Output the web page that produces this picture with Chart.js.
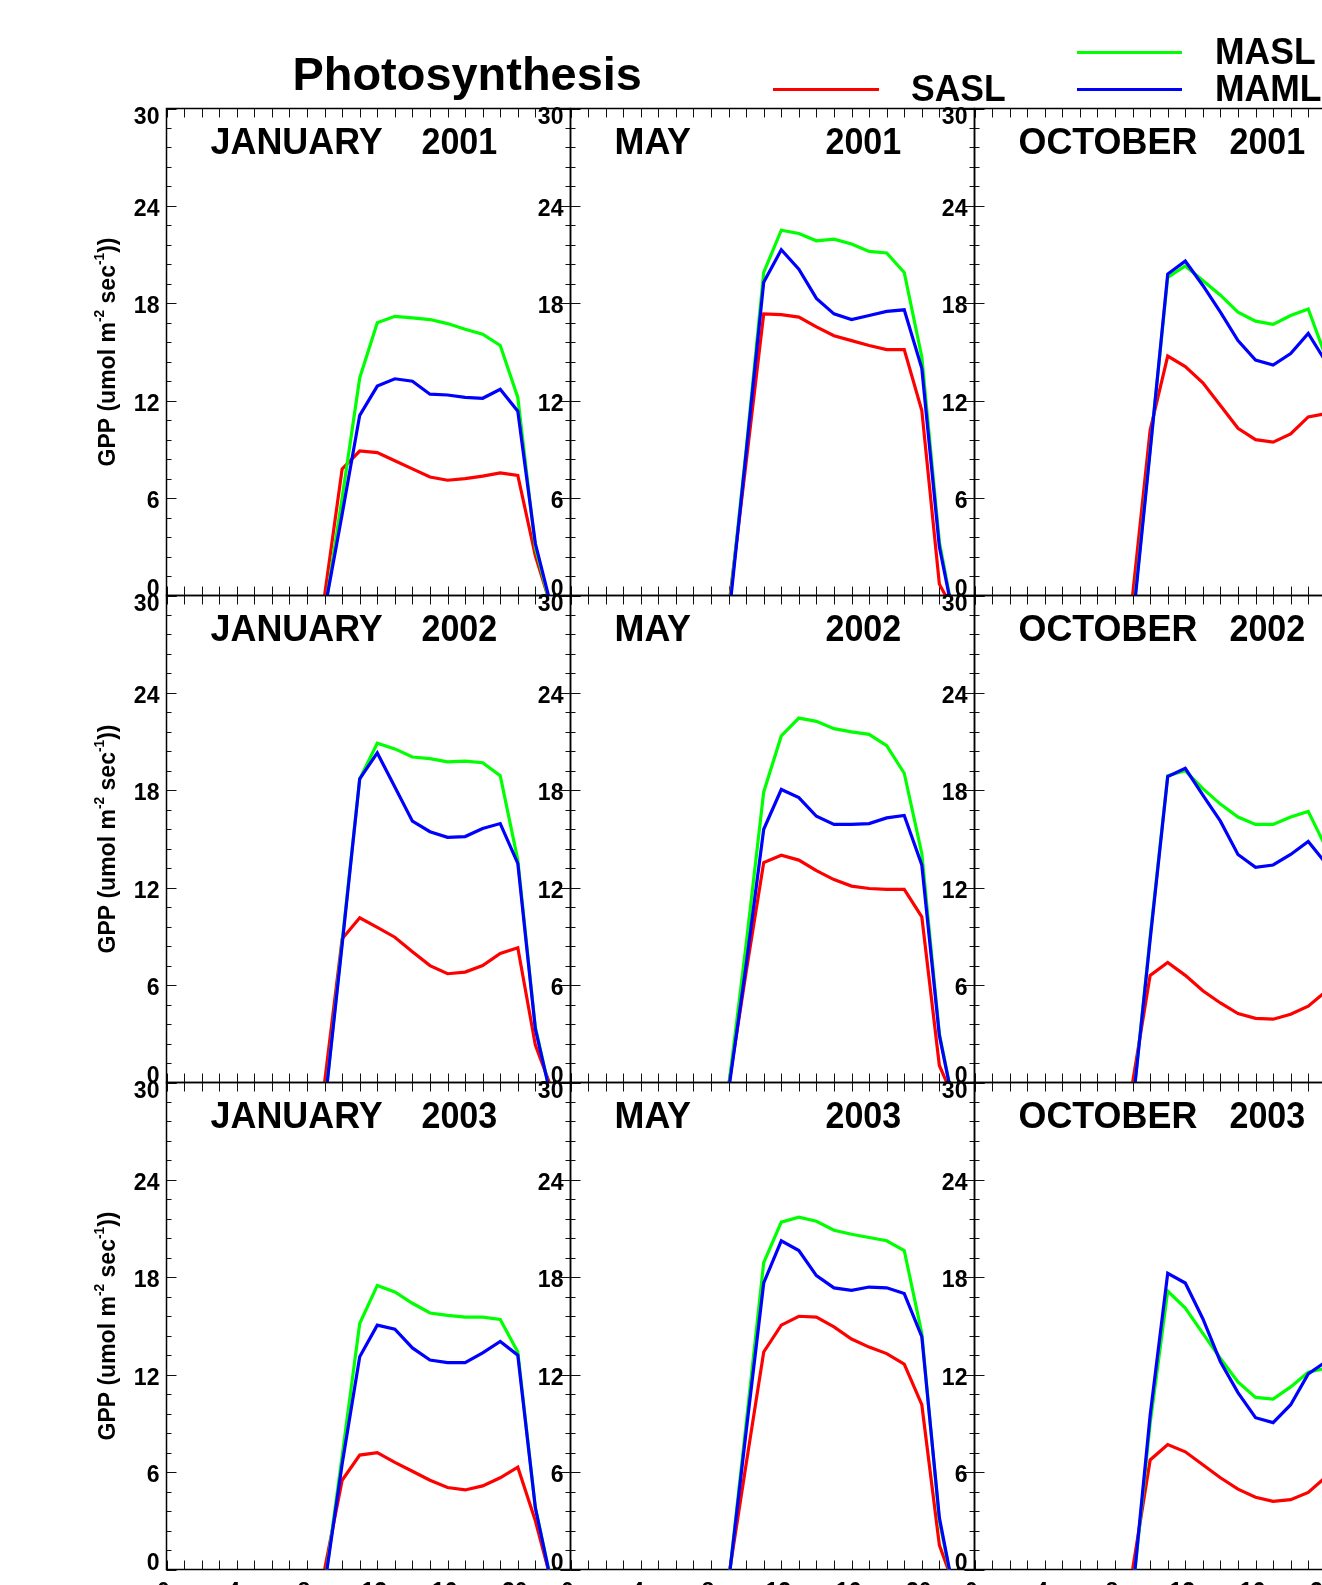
<!DOCTYPE html>
<html lang="en">
<head>
<meta charset="UTF-8" />
<title>Photosynthesis</title>
<script src="https://cdn.jsdelivr.net/npm/chart.js"></script>
<style>
  html, body { margin: 0; padding: 0; background: #fff; overflow: hidden; width: 1322px; height: 1585px; }
  canvas { position: absolute; left: 0; top: 0; }
</style>
</head>
<body>
<script>
const hours = [0,1,2,3,4,5,6,7,8,9,10,11,12,13,14,15,16,17,18,19,20,21,22,23];
const xTickLabels = [0, 4, 8, 12, 16, 20];
const yTicks = [0, 6, 12, 18, 24, 30];
const months = ['JANUARY', 'MAY', 'OCTOBER'];
const years = ['2001', '2002', '2003'];
const seriesNames = ['SASL', 'MASL', 'MAML'];
const seriesColors = ['#ff0000', '#00ff00', '#0000ff'];

// hourly GPP (umol m-2 s-1); null = not plotted
const saslJan2001 = [null,null,null,null,null,null,null,null,null, 0, 7.8, 8.9, 8.8, 8.3, 7.8, 7.3, 7.1, 7.2, 7.35, 7.55, 7.4, 2.45, -1.05, null];
const maslJan2001 = [null,null,null,null,null,null,null,null,null, -1.05, 6.0, 13.4, 16.8, 17.2, 17.1, 17.0, 16.75, 16.4, 16.1, 15.4, 12.2, 2.95, -1.2, null];
const mamlJan2001 = [null,null,null,null,null,null,null,null,null, -0.9, 5.0, 11.1, 12.9, 13.35, 13.2, 12.4, 12.35, 12.2, 12.15, 12.7, 11.35, 3.2, -1.1, null];

const saslMay2001 = [null,null,null,null,null,null,null,null,null, -0.8, 8.2, 17.35, 17.3, 17.15, 16.55, 16.0, 15.7, 15.4, 15.15, 15.15, 11.4, 0.7, -1.3, null];
const maslMay2001 = [null,null,null,null,null,null,null,null,null, -1.2, 9.0, 19.9, 22.5, 22.3, 21.85, 21.95, 21.65, 21.2, 21.1, 19.9, 14.7, 3.3, -2.4, null];
const mamlMay2001 = [null,null,null,null,null,null,null,null,null, -1.5, 8.8, 19.3, 21.3, 20.1, 18.3, 17.35, 17.0, 17.25, 17.5, 17.6, 14.0, 3.0, -2.4, null];

const saslOct2001 = [null,null,null,null,null,null,null,null,null, 0, 10.2, 14.75, 14.1, 13.1, 11.7, 10.3, 9.6, 9.45, 9.95, 11.0, 11.2, null, null, null];
const maslOct2001 = [null,null,null,null,null,null,null,null,null, -1.6, 9.0, 19.6, 20.3, 19.4, 18.5, 17.45, 16.9, 16.7, 17.25, 17.65, 14.7, null, null, null];
const mamlOct2001 = [null,null,null,null,null,null,null,null,null, -1.8, 8.9, 19.8, 20.6, 19.1, 17.45, 15.7, 14.5, 14.2, 14.9, 16.15, 14.4, null, null, null];

const saslJan2002 = [null,null,null,null,null,null,null,null,null, 0, 8.85, 10.15, 9.55, 8.95, 8.05, 7.2, 6.7, 6.8, 7.2, 7.95, 8.3, 2.3, -0.6, null];
const maslJan2002 = [null,null,null,null,null,null,null,null,null, -1.5, 8.7, 18.7, 20.9, 20.55, 20.05, 19.95, 19.75, 19.8, 19.7, 18.9, 13.7, 3.4, -1.4, null];
const mamlJan2002 = [null,null,null,null,null,null,null,null,null, -1.5, 8.5, 18.7, 20.3, 18.2, 16.1, 15.45, 15.1, 15.15, 15.65, 15.95, 13.5, 3.3, -1.4, null];

const saslMay2002 = [null,null,null,null,null,null,null,null,null, -0.2, 6.8, 13.55, 14.0, 13.7, 13.05, 12.5, 12.1, 11.95, 11.9, 11.9, 10.2, 1.05, -1.45, null];
const maslMay2002 = [null,null,null,null,null,null,null,null,null, -0.3, 8.5, 17.9, 21.35, 22.45, 22.25, 21.8, 21.6, 21.45, 20.75, 19.05, 14.1, 3.0, -2.4, null];
const mamlMay2002 = [null,null,null,null,null,null,null,null,null, -0.5, 7.25, 15.6, 18.05, 17.55, 16.4, 15.9, 15.9, 15.95, 16.3, 16.45, 13.4, 2.9, -2.4, null];

const saslOct2002 = [null,null,null,null,null,null,null,null,null, 0, 6.6, 7.4, 6.6, 5.65, 4.9, 4.25, 3.95, 3.9, 4.2, 4.7, 5.6, null, null, null];
const maslOct2002 = [null,null,null,null,null,null,null,null,null, -1.5, 9.0, 18.9, 19.2, 18.1, 17.15, 16.35, 15.9, 15.9, 16.35, 16.7, 14.5, null, null, null];
const mamlOct2002 = [null,null,null,null,null,null,null,null,null, -1.5, 8.8, 18.85, 19.35, 17.7, 16.1, 14.05, 13.25, 13.4, 14.05, 14.85, 13.5, null, null, null];

const saslJan2003 = [null,null,null,null,null,null,null,null,null, 0, 5.5, 7.05, 7.2, 6.6, 6.05, 5.5, 5.05, 4.9, 5.15, 5.65, 6.3, 3.0, -1.1, null];
const maslJan2003 = [null,null,null,null,null,null,null,null,null, -1.0, 7.0, 15.15, 17.5, 17.1, 16.4, 15.8, 15.65, 15.55, 15.55, 15.4, 13.4, 3.8, -1.2, null];
const mamlJan2003 = [null,null,null,null,null,null,null,null,null, -1.0, 6.5, 13.1, 15.05, 14.8, 13.65, 12.9, 12.75, 12.75, 13.35, 14.05, 13.2, 3.8, -1.3, null];

const saslMay2003 = [null,null,null,null,null,null,null,null,null, -0.5, 6.5, 13.4, 15.05, 15.6, 15.55, 14.95, 14.2, 13.7, 13.3, 12.65, 10.15, 1.5, -1.5, null];
const maslMay2003 = [null,null,null,null,null,null,null,null,null, -0.8, 9.0, 18.9, 21.4, 21.7, 21.45, 20.9, 20.65, 20.45, 20.25, 19.65, 14.55, 3.0, -2.4, null];
const mamlMay2003 = [null,null,null,null,null,null,null,null,null, -0.8, 8.5, 17.65, 20.25, 19.65, 18.1, 17.35, 17.2, 17.4, 17.35, 17.0, 14.35, 3.2, -2.4, null];

const saslOct2003 = [null,null,null,null,null,null,null,null,null, 0, 6.75, 7.7, 7.25, 6.45, 5.65, 4.95, 4.45, 4.2, 4.3, 4.75, 5.7, null, null, null];
const maslOct2003 = [null,null,null,null,null,null,null,null,null, -1.5, 9.0, 17.15, 16.1, 14.55, 13.0, 11.55, 10.6, 10.5, 11.25, 12.15, 12.4, null, null, null];
const mamlOct2003 = [null,null,null,null,null,null,null,null,null, -1.5, 9.5, 18.25, 17.65, 15.45, 12.8, 10.9, 9.35, 9.05, 10.15, 12.05, 12.8, null, null, null];

// rows = years, columns = months, each [SASL, MASL, MAML]
const panels = [
  [[saslJan2001, maslJan2001, mamlJan2001], [saslMay2001, maslMay2001, mamlMay2001], [saslOct2001, maslOct2001, mamlOct2001]],
  [[saslJan2002, maslJan2002, mamlJan2002], [saslMay2002, maslMay2002, mamlMay2002], [saslOct2002, maslOct2002, mamlOct2002]],
  [[saslJan2003, maslJan2003, mamlJan2003], [saslMay2003, maslMay2003, mamlMay2003], [saslOct2003, maslOct2003, mamlOct2003]]
];

// page geometry
const CW = 1420, CH = 1620;
const colLeft = [166.5, 570.5, 974.5];
const rowTop = [108.5, 595.5, 1082.5];
const PW = 404, PH = 487;
const FONT = '"Liberation Sans", Arial, Helvetica, sans-serif';

function txt(ctx, s, x, y, size, align, sx) {
  ctx.save();
  ctx.font = 'bold ' + size + 'px ' + FONT;
  ctx.translate(x, y);
  ctx.scale(sx || 1, 1);
  ctx.textAlign = align || 'left';
  ctx.textBaseline = 'alphabetic';
  ctx.fillStyle = '#000';
  ctx.fillText(s, 0, 0);
  ctx.restore();
}

// text with superscripts, drawn rotated -90deg and centred on (cx, cy)
function yTitle(ctx, parts, cx, cy, size) {
  ctx.save();
  ctx.translate(cx, cy);
  ctx.rotate(-Math.PI / 2);
  ctx.fillStyle = '#000';
  ctx.textBaseline = 'alphabetic';
  let w = 0;
  parts.forEach(p => {
    ctx.font = 'bold ' + (p.sup ? size * 0.6 : size) + 'px ' + FONT;
    w += ctx.measureText(p.t).width;
  });
  let x = -w / 2;
  parts.forEach(p => {
    ctx.font = 'bold ' + (p.sup ? size * 0.6 : size) + 'px ' + FONT;
    ctx.fillText(p.t, x, p.sup ? size * 0.36 - size * 0.5 : size * 0.36);
    x += ctx.measureText(p.t).width;
  });
  ctx.restore();
}

const idlFrame = {
  id: 'idlFrame',
  beforeDatasetsDraw(chart, args, o) {
    const { ctx, chartArea: a, scales: { x, y } } = chart;
    ctx.save();
    ctx.strokeStyle = '#111';
    ctx.lineWidth = 1;
    ctx.beginPath();
    hours.forEach((h, i) => {
      const px = Math.round(x.getPixelForValue(i)) + 0.5;
      ctx.moveTo(px, a.top); ctx.lineTo(px, a.top + 9);
      ctx.moveTo(px, a.bottom); ctx.lineTo(px, a.bottom - 9);
    });
    const step = (yTicks[1] - yTicks[0]) / 5;
    for (let k = 0; k <= 25; k++) {
      const py = Math.round(y.getPixelForValue(k * step)) + 0.5;
      const len = k % 5 === 0 ? 10 : 5;
      ctx.moveTo(a.left, py); ctx.lineTo(a.left + len, py);
      ctx.moveTo(a.right, py); ctx.lineTo(a.right - len, py);
    }
    ctx.stroke();
    ctx.strokeStyle = '#000';
    ctx.lineWidth = 1.5;
    ctx.strokeRect(a.left, a.top, a.width, a.height);
    ctx.restore();
  },
  afterDraw(chart, args, o) {
    const { ctx, chartArea: a, scales: { x, y } } = chart;
    // y tick labels
    yTicks.forEach((v, i) => {
      const py = y.getPixelForValue(v);
      let base = py + 10;
      if (i === yTicks.length - 1) base = py + 15;
      if (i === 0) base = py;
      txt(ctx, String(v), a.left - 7, base, 24, 'right', 0.96);
    });
    // x tick labels (bottom row only, mostly off the page)
    if (o.bottomRow) {
      xTickLabels.forEach(h => {
        const px = x.getPixelForValue(hours.indexOf(h));
        txt(ctx, String(h), px - 3, a.bottom + 29, 24, 'center', 0.96);
      });
    }
    txt(ctx, o.month, a.left + 44, a.top + 45, 37, 'left', 0.97);
    txt(ctx, o.year, a.left + 255, a.top + 45, 37, 'left', 0.92);
    if (o.yTitle) {
      yTitle(ctx, [{ t: 'GPP (umol m' }, { t: '-2', sup: true }, { t: ' sec' }, { t: '-1', sup: true }, { t: '))' }],
        107, (a.top + a.bottom) / 2, 23);
    }
    if (o.header) {
      txt(ctx, 'Photosynthesis', 292.5, 89.5, 46, 'left', 1.02);
      const ds = chart.data.datasets;
      const slots = {
        SASL: { x1: 773, x2: 879, y: 89.5, tx: 911, ty: 100.5 },
        MASL: { x1: 1077, x2: 1182, y: 52.5, tx: 1215, ty: 63.5 },
        MAML: { x1: 1077, x2: 1182, y: 89.5, tx: 1215, ty: 100.5 }
      };
      ds.forEach(d => {
        const s = slots[d.label];
        ctx.save();
        ctx.strokeStyle = d.borderColor;
        ctx.lineWidth = 3;
        ctx.beginPath();
        ctx.moveTo(s.x1, s.y); ctx.lineTo(s.x2, s.y);
        ctx.stroke();
        ctx.restore();
        txt(ctx, d.label, s.tx, s.ty, 37, 'left', 0.96);
      });
    }
  }
};

panels.forEach((row, r) => {
  row.forEach((series, c) => {
    const cv = document.createElement('canvas');
    cv.width = CW; cv.height = CH;
    cv.style.width = CW + 'px'; cv.style.height = CH + 'px';
    document.body.appendChild(cv);
    new Chart(cv, {
      type: 'line',
      data: {
        labels: hours,
        datasets: series.map((vals, k) => ({
          label: seriesNames[k],
          data: vals,
          borderColor: seriesColors[k],
          borderWidth: 3.2,
          pointRadius: 0,
          tension: 0,
          fill: false,
          clip: 0,
          order: 3 - k
        }))
      },
      options: {
        responsive: false,
        animation: false,
        devicePixelRatio: 1,
        events: [],
        layout: {
          padding: {
            left: colLeft[c],
            top: rowTop[r],
            right: CW - colLeft[c] - PW,
            bottom: CH - rowTop[r] - PH
          }
        },
        scales: {
          x: { type: 'category', display: false, offset: false },
          y: { type: 'linear', display: false, min: 0, max: 30 }
        },
        plugins: {
          legend: { display: false },
          tooltip: { enabled: false },
          title: { display: false },
          idlFrame: {
            month: months[c],
            year: years[r],
            yTitle: c === 0,
            bottomRow: r === 2,
            header: r === 0 && c === 0
          }
        }
      },
      plugins: [idlFrame]
    });
  });
});
</script>
</body>
</html>
